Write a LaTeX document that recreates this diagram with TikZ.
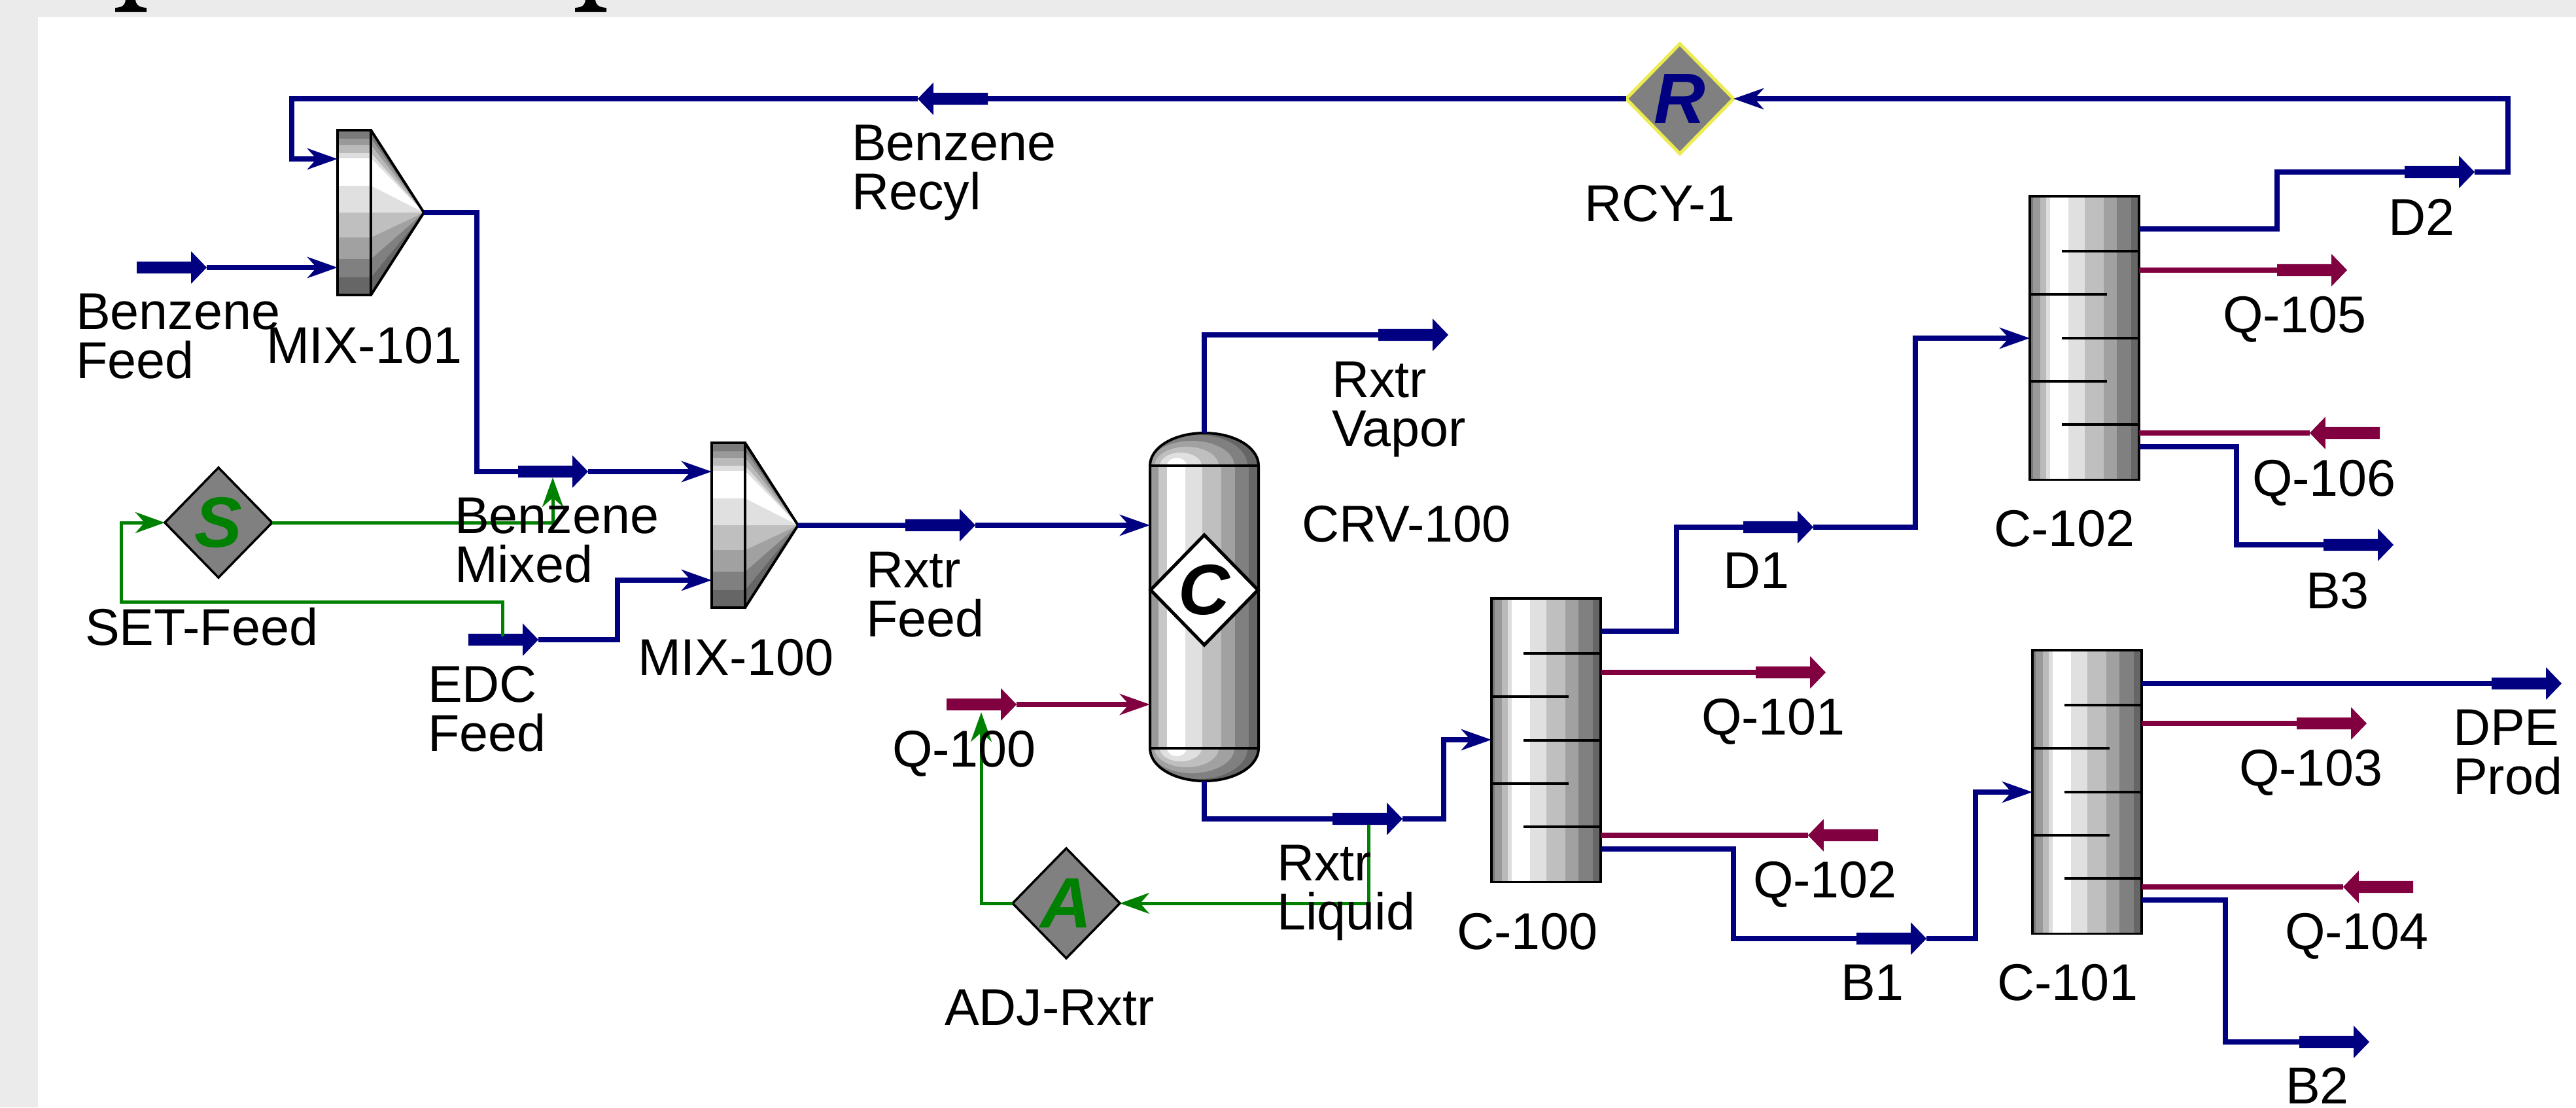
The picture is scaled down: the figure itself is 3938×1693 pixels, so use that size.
\documentclass[tikz,border=0pt]{standalone}
\usepackage{fontspec}
\setmainfont{Liberation Sans}
\usetikzlibrary{shapes.geometric,shapes.arrows,arrows.meta}
\definecolor{streamblue}{RGB}{0,0,128}
\definecolor{heatred}{RGB}{128,0,64}
\definecolor{ctrlgreen}{RGB}{0,128,0}
\definecolor{unitgray}{RGB}{128,128,128}
\definecolor{pagegray}{RGB}{235,235,235}
\definecolor{rcyyellow}{RGB}{236,236,80}

\newcommand{\mixer}[3]{
    \begin{scope}[shift={(#2,#3)}]
    \foreach \ya/\yb/\k in {0/13/52,13/23/40,23/35/27,35/43/13,43/85/0,85/126/12,126/164/25,164/197/37,197/225/50,225/252/60}{
        \fill[black!\k] (0,\ya) rectangle (51,\yb);
        \fill[black!\k] (51,\ya) -- (51,\yb) -- (132,126) -- cycle;
    }
    \draw[line width=.04cm] (0,0) rectangle (51,252);
    \draw[line width=.04cm] (51,0) -- (132,126) -- (51,252);
    \node[inner sep=0,outer sep=0,minimum width=1.32cm,minimum height=2.52cm,anchor=north west] (#1) at (0,0) {};
    \end{scope}
}
\newcommand{\tower}[3]{
    \begin{scope}[shift={(#2,#3)}]
    \foreach \xa/\xb/\k in {0/5/53,5/16/40,16/25/27,25/31/13,31/59/0,59/84/12,84/113/25,113/133/37,133/155/50,155/167/60}{
        \fill[black!\k] (\xa,0) rectangle (\xb,433);
    }
    \foreach \ty in {84,217,349}{\draw[line width=.035cm] (49,\ty) -- (167,\ty);}
    \foreach \ty in {150,283}{\draw[line width=.035cm] (0,\ty) -- (118,\ty);}
    \node[draw,line width=.035cm,inner sep=0,outer sep=0,minimum width=1.67cm,minimum height=4.33cm,anchor=north west] (#1) at (0,0) {};
    \end{scope}
}

\begin{document}
\begin{tikzpicture}[x=0.01cm,y=-0.01cm]
    %styles
    \tikzstyle{tag}=[inner sep=0,outer sep=0,anchor=base west,align=left,font=\fontsize{22.5}{21.3}\selectfont]
    \tikzstyle{logic}=[diamond,draw=black,line width=.035cm,fill=unitgray,inner sep=0,outer sep=0,minimum width=1.64cm,minimum height=1.68cm,font=\fontsize{31}{31}\selectfont\bfseries\itshape]
    \tikzstyle{stub}=[single arrow,anchor=tail,inner xsep=0,inner ysep=.085cm,outer sep=0,minimum height=1.07cm,minimum width=.48cm,single arrow head extend=.155cm,single arrow tip angle=92]
    \tikzstyle{bstub}=[stub,fill=streamblue]
    \tikzstyle{qstub}=[stub,fill=heatred]
    \tikzstyle{back}=[shape border rotate=180]
    \tikzstyle{stream}=[draw=streamblue,line width=.075cm,>={Stealth[length=.46cm,width=.32cm,inset=.14cm]}]
    \tikzstyle{heat}=[draw=heatred,line width=.075cm,>={Stealth[length=.46cm,width=.32cm,inset=.14cm]}]
    \tikzstyle{control}=[draw=ctrlgreen,line width=.05cm,>={Stealth[length=.45cm,width=.32cm,inset=.14cm]}]

    %page
    \useasboundingbox (0,0) rectangle (3938,1693);
    \fill[pagegray] (0,0) rectangle (3938,1693);
    \fill[white] (58,26) rectangle (3938,1693);
    \foreach \x in {176,879}{
        \fill (\x,18) -- (\x,12) .. controls (\x+14,11) and (\x+15,6) .. (\x+16,0) -- (\x+31,0) .. controls (\x+32,6) and (\x+34,11) .. (\x+48,12) -- (\x+48,18) -- cycle;
    }

    %reactor
    \foreach \base/\s in {712/1,1144/-1}{
        \begin{scope}[shift={(1841,\base)},yscale=\s]
        \clip (-83,0) .. controls (-83,-28) and (-46,-50) .. (0,-50) .. controls (46,-50) and (83,-28) .. (83,0) -- cycle;
        \fill[black!60] (-83,-50) rectangle (83,0);
        \foreach \dx/\rx/\ry/\k in {-9/0.75/0.47/50,-19/0.65/0.38/37,-27/0.49/0.29/25,-36/0.32/0.20/12,-42/0.15/0.12/0}{
            \fill[black!\k] (\dx,0) ellipse [x radius=\rx cm,y radius=\ry cm];
        }
        \end{scope}
    }
    \foreach \xa/\xb/\k in {0/13/40,13/26/22,26/54/0,54/80/12,80/109/25,109/130/37,130/151/50,151/166/60}{
        \fill[black!\k] (1758+\xa,712) rectangle (1758+\xb,1144);
    }
    \draw[line width=.04cm] (1758,712) .. controls (1758,684) and (1795,662) .. (1841,662) .. controls (1887,662) and (1924,684) .. (1924,712) -- (1924,1144) .. controls (1924,1172) and (1887,1194) .. (1841,1194) .. controls (1795,1194) and (1758,1172) .. (1758,1144) -- cycle;
    \draw[line width=.04cm] (1758,712) -- (1924,712);
    \draw[line width=.04cm] (1758,1144) -- (1924,1144);
    \node[inner sep=0,outer sep=0,minimum width=1.66cm,minimum height=5.32cm] (crv) at (1841,928) {};

    %units
    \mixer{mix101}{516}{199}
    \mixer{mix100}{1088}{677}
    \tower{c100}{2280}{915}
    \tower{c101}{3107}{994}
    \tower{c102}{3103}{300}
    \node[logic,fill=white,line width=.05cm] (crvc) at (1841,902) {C};
    \node[logic,draw=rcyyellow,line width=.05cm,text=streamblue] (rcy) at (2568,151) {R};
    \node[logic,text=ctrlgreen] (setf) at (334,799) {S};
    \node[logic,text=ctrlgreen] (adj) at (1630,1381) {A};

    %stream markers
    \node[bstub] (bfeed) at (209,409) {};
    \node[bstub] (bmix) at (792,721) {};
    \node[bstub] (edc) at (716,978) {};
    \node[bstub] (rfeed) at (1384,803) {};
    \node[bstub] (rvapor) at (2107,512) {};
    \node[bstub] (rliq) at (2037,1252) {};
    \node[bstub] (d1) at (2665,806) {};
    \node[bstub] (b1) at (2838,1435) {};
    \node[bstub] (d2) at (3676,263) {};
    \node[bstub] (b3) at (3552,833) {};
    \node[bstub] (dpe) at (3809,1045) {};
    \node[bstub] (b2) at (3515,1593) {};
    \node[bstub,back] (brecyl) at (1510,151) {};
    \node[qstub] (q100) at (1447,1077) {};
    \node[qstub] (q101) at (2684,1028) {};
    \node[qstub,back] (q102) at (2871,1277) {};
    \node[qstub] (q103) at (3511,1106) {};
    \node[qstub,back] (q104) at (3689,1356) {};
    \node[qstub] (q105) at (3481,413) {};
    \node[qstub,back] (q106) at (3638,662) {};

    %control ends
    \coordinate (bmixset) at (845,730);
    \coordinate (edcset) at (768,973);
    \coordinate (q100adj) at (1500,1089);
    \coordinate (liqadj) at (2092,1261);

    %arrows
    \draw[stream,->] (bfeed.tip) -- (mix101.west |- bfeed.tip);
    \draw[stream,->] (brecyl.tip) -- ++(-957,0) |- (mix101.west |- 0,243);
    \draw[stream] (mix101.east) -- ++(81,0) |- (bmix.tail);
    \draw[stream,->] (bmix.tip) -- (mix100.west |- bmix.tip);
    \draw[stream,->] (edc.tip) -- ++(121,0) |- (mix100.west |- 0,887);
    \draw[stream] (mix100.east) -- (rfeed.tail);
    \draw[stream,->] (rfeed.tip) -- (crv.west |- rfeed.tip);
    \draw[stream] (crv.north) |- (rvapor.tail);
    \draw[stream] (crv.south) |- (rliq.tail);
    \draw[stream,->] (rliq.tip) -- ++(63,0) |- (c100.west |- 0,1131);
    \draw[stream] (c100.east |- 0,965) -- ++(116,0) |- (d1.tail);
    \draw[stream,->] (d1.tip) -- ++(156,0) |- (c102.west |- 0,517);
    \draw[stream] (c100.east |- 0,1298) -- ++(203,0) |- (b1.tail);
    \draw[stream,->] (b1.tip) -- ++(75,0) |- (c101.west |- 0,1211);
    \draw[stream] (c102.east |- 0,350) -- ++(211,0) |- (d2.tail);
    \draw[stream,->] (d2.tip) -- ++(51,0) |- (rcy.east);
    \draw[stream] (rcy.west) -- (brecyl.tail);
    \draw[stream] (c102.east |- 0,683) -- ++(149,0) |- (b3.tail);
    \draw[stream] (c101.east |- dpe.tail) -- (dpe.tail);
    \draw[stream] (c101.east |- 0,1376) -- ++(128,0) |- (b2.tail);
    \draw[heat,->] (q100.tip) -- (crv.west |- q100.tip);
    \draw[heat] (c100.east |- q101.tail) -- (q101.tail);
    \draw[heat] (c100.east |- q102.tip) -- (q102.tip);
    \draw[heat] (c101.east |- q103.tail) -- (q103.tail);
    \draw[heat] (c101.east |- q104.tip) -- (q104.tip);
    \draw[heat] (c102.east |- q105.tail) -- (q105.tail);
    \draw[heat] (c102.east |- q106.tip) -- (q106.tip);
    \draw[control,->] (edcset) -- ++(0,-53) -- ++(-583,0) |- (setf.west);
    \draw[control,->] (setf.east) -| (bmixset);
    \draw[control,->] (liqadj) |- (adj.east);
    \draw[control,->] (adj.west) -| (q100adj);

    %labels
    \node[tag] (tbfeed) at (116,578) {Benzene\\Feed};
    \node[tag] (tmix101) at (407,555) {MIX-101};
    \node[tag] (tbrecyl) at (1302,320) {Benzene\\Recyl};
    \node[tag] (trcy) at (2422,338) {RCY-1};
    \node[tag] (tbmix) at (695,890) {Benzene\\Mixed};
    \node[tag] (tsetf) at (130,986) {SET-Feed};
    \node[tag] (tedc) at (654,1148) {EDC\\Feed};
    \node[tag] (tmix100) at (975,1032) {MIX-100};
    \node[tag] (trfeed) at (1324,973) {Rxtr\\Feed};
    \node[tag] (trvapor) at (2036,682) {Rxtr\\Vapor};
    \node[tag] (tcrv) at (1990,828) {CRV-100};
    \node[tag] (tq100) at (1364,1172) {Q-100};
    \node[tag] (tadj) at (1444,1567) {ADJ-Rxtr};
    \node[tag] (trliq) at (1952,1421) {Rxtr\\Liquid};
    \node[tag] (tc100) at (2227,1451) {C-100};
    \node[tag] (td1) at (2634,899) {D1};
    \node[tag] (tq101) at (2601,1123) {Q-101};
    \node[tag] (tq102) at (2680,1372) {Q-102};
    \node[tag] (tb1) at (2814,1529) {B1};
    \node[tag] (tc101) at (3053,1529) {C-101};
    \node[tag] (tc102) at (3048,835) {C-102};
    \node[tag] (td2) at (3651,359) {D2};
    \node[tag] (tq105) at (3398,508) {Q-105};
    \node[tag] (tq106) at (3443,758) {Q-106};
    \node[tag] (tb3) at (3525,930) {B3};
    \node[tag] (tq103) at (3423,1201) {Q-103};
    \node[tag] (tq104) at (3493,1451) {Q-104};
    \node[tag] (tdpe) at (3750,1214) {DPE\\Prod};
    \node[tag] (tb2) at (3494,1687) {B2};
\end{tikzpicture}
\end{document}
